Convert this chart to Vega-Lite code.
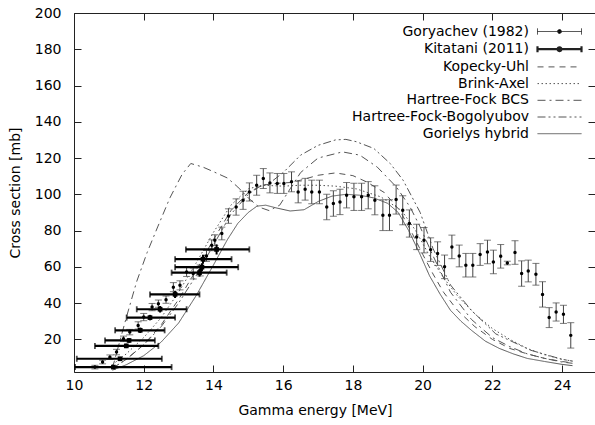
{
  "$schema": "https://vega.github.io/schema/vega-lite/v6.json",
  "width": 521,
  "height": 359,
  "autosize": {"type": "none"},
  "padding": {"left": 74, "top": 13, "right": 0, "bottom": 53},
  "background": "#ffffff",
  "config": {
    "font": "DejaVu Sans",
    "view": {"stroke": "#222", "strokeWidth": 1},
    "axis": {"labelFontSize": 14, "titleFontSize": 14, "titleFontWeight": "normal", "labelColor": "#000", "titleColor": "#000", "domainColor": "#222", "tickColor": "#222", "gridColor": "#222", "gridOpacity": 1, "gridWidth": 1, "labelFlush": false, "labelOverlap": false, "labelBound": false}
  },
  "datasets": {
    "models": [
      {"m": "Gorielys hybrid", "E": 11.1, "s": 3}, {"m": "Gorielys hybrid", "E": 11.5, "s": 6}, {"m": "Gorielys hybrid", "E": 12.0, "s": 11}, {"m": "Gorielys hybrid", "E": 12.5, "s": 18.5}, {"m": "Gorielys hybrid", "E": 13.0, "s": 29}, {"m": "Gorielys hybrid", "E": 13.5, "s": 44}, {"m": "Gorielys hybrid", "E": 14.0, "s": 61}, {"m": "Gorielys hybrid", "E": 14.4, "s": 75}, {"m": "Gorielys hybrid", "E": 14.7, "s": 84}, {"m": "Gorielys hybrid", "E": 15.0, "s": 90}, {"m": "Gorielys hybrid", "E": 15.25, "s": 93.5}, {"m": "Gorielys hybrid", "E": 15.5, "s": 94}, {"m": "Gorielys hybrid", "E": 15.8, "s": 92.5}, {"m": "Gorielys hybrid", "E": 16.2, "s": 90.8}, {"m": "Gorielys hybrid", "E": 16.6, "s": 91.5}, {"m": "Gorielys hybrid", "E": 17.0, "s": 96}, {"m": "Gorielys hybrid", "E": 17.4, "s": 99}, {"m": "Gorielys hybrid", "E": 17.8, "s": 100}, {"m": "Gorielys hybrid", "E": 18.2, "s": 99.5}, {"m": "Gorielys hybrid", "E": 18.6, "s": 98}, {"m": "Gorielys hybrid", "E": 19.0, "s": 95}, {"m": "Gorielys hybrid", "E": 19.3, "s": 90}, {"m": "Gorielys hybrid", "E": 19.6, "s": 80}, {"m": "Gorielys hybrid", "E": 19.9, "s": 68}, {"m": "Gorielys hybrid", "E": 20.2, "s": 55}, {"m": "Gorielys hybrid", "E": 20.5, "s": 45}, {"m": "Gorielys hybrid", "E": 20.8, "s": 36}, {"m": "Gorielys hybrid", "E": 21.1, "s": 30}, {"m": "Gorielys hybrid", "E": 21.4, "s": 25}, {"m": "Gorielys hybrid", "E": 21.8, "s": 19}, {"m": "Gorielys hybrid", "E": 22.2, "s": 15}, {"m": "Gorielys hybrid", "E": 22.6, "s": 12}, {"m": "Gorielys hybrid", "E": 23.0, "s": 9.5}, {"m": "Gorielys hybrid", "E": 23.5, "s": 7.8}, {"m": "Gorielys hybrid", "E": 24.0, "s": 6.2}, {"m": "Gorielys hybrid", "E": 24.3, "s": 5.5},
      {"m": "Kopecky-Uhl", "E": 11.1, "s": 4}, {"m": "Kopecky-Uhl", "E": 11.5, "s": 9}, {"m": "Kopecky-Uhl", "E": 12.0, "s": 17}, {"m": "Kopecky-Uhl", "E": 12.5, "s": 28}, {"m": "Kopecky-Uhl", "E": 13.0, "s": 42}, {"m": "Kopecky-Uhl", "E": 13.5, "s": 58}, {"m": "Kopecky-Uhl", "E": 14.0, "s": 75}, {"m": "Kopecky-Uhl", "E": 14.5, "s": 91}, {"m": "Kopecky-Uhl", "E": 15.0, "s": 101}, {"m": "Kopecky-Uhl", "E": 15.4, "s": 105}, {"m": "Kopecky-Uhl", "E": 15.8, "s": 106}, {"m": "Kopecky-Uhl", "E": 16.2, "s": 106.5}, {"m": "Kopecky-Uhl", "E": 16.5, "s": 107.8}, {"m": "Kopecky-Uhl", "E": 17.0, "s": 110.5}, {"m": "Kopecky-Uhl", "E": 17.5, "s": 111.8}, {"m": "Kopecky-Uhl", "E": 18.0, "s": 110.3}, {"m": "Kopecky-Uhl", "E": 18.4, "s": 106.8}, {"m": "Kopecky-Uhl", "E": 18.9, "s": 101}, {"m": "Kopecky-Uhl", "E": 19.35, "s": 91}, {"m": "Kopecky-Uhl", "E": 19.7, "s": 78.5}, {"m": "Kopecky-Uhl", "E": 20.0, "s": 67}, {"m": "Kopecky-Uhl", "E": 20.3, "s": 56}, {"m": "Kopecky-Uhl", "E": 20.6, "s": 46}, {"m": "Kopecky-Uhl", "E": 21.0, "s": 36}, {"m": "Kopecky-Uhl", "E": 21.5, "s": 27}, {"m": "Kopecky-Uhl", "E": 22.0, "s": 20}, {"m": "Kopecky-Uhl", "E": 22.5, "s": 15}, {"m": "Kopecky-Uhl", "E": 23.0, "s": 12}, {"m": "Kopecky-Uhl", "E": 23.5, "s": 9.5}, {"m": "Kopecky-Uhl", "E": 24.0, "s": 7.8}, {"m": "Kopecky-Uhl", "E": 24.3, "s": 7},
      {"m": "Brink-Axel", "E": 11.1, "s": 6}, {"m": "Brink-Axel", "E": 11.5, "s": 12}, {"m": "Brink-Axel", "E": 12.0, "s": 21}, {"m": "Brink-Axel", "E": 12.5, "s": 32}, {"m": "Brink-Axel", "E": 13.0, "s": 46}, {"m": "Brink-Axel", "E": 13.5, "s": 62}, {"m": "Brink-Axel", "E": 14.0, "s": 79}, {"m": "Brink-Axel", "E": 14.5, "s": 94}, {"m": "Brink-Axel", "E": 15.0, "s": 103}, {"m": "Brink-Axel", "E": 15.4, "s": 105}, {"m": "Brink-Axel", "E": 16.0, "s": 104.5}, {"m": "Brink-Axel", "E": 16.5, "s": 105}, {"m": "Brink-Axel", "E": 17.0, "s": 105}, {"m": "Brink-Axel", "E": 17.5, "s": 104.5}, {"m": "Brink-Axel", "E": 18.1, "s": 103}, {"m": "Brink-Axel", "E": 18.8, "s": 98.6}, {"m": "Brink-Axel", "E": 19.4, "s": 91}, {"m": "Brink-Axel", "E": 19.8, "s": 80}, {"m": "Brink-Axel", "E": 20.2, "s": 66}, {"m": "Brink-Axel", "E": 20.6, "s": 54}, {"m": "Brink-Axel", "E": 21.0, "s": 44}, {"m": "Brink-Axel", "E": 21.5, "s": 34}, {"m": "Brink-Axel", "E": 22.0, "s": 26}, {"m": "Brink-Axel", "E": 22.5, "s": 20}, {"m": "Brink-Axel", "E": 23.0, "s": 15}, {"m": "Brink-Axel", "E": 23.5, "s": 11.5}, {"m": "Brink-Axel", "E": 24.0, "s": 9}, {"m": "Brink-Axel", "E": 24.3, "s": 8},
      {"m": "Hartree-Fock BCS", "E": 11.1, "s": 4}, {"m": "Hartree-Fock BCS", "E": 11.3, "s": 18}, {"m": "Hartree-Fock BCS", "E": 11.5, "s": 32}, {"m": "Hartree-Fock BCS", "E": 11.8, "s": 52}, {"m": "Hartree-Fock BCS", "E": 12.1, "s": 68}, {"m": "Hartree-Fock BCS", "E": 12.4, "s": 82}, {"m": "Hartree-Fock BCS", "E": 12.75, "s": 98}, {"m": "Hartree-Fock BCS", "E": 13.1, "s": 111}, {"m": "Hartree-Fock BCS", "E": 13.35, "s": 117}, {"m": "Hartree-Fock BCS", "E": 13.7, "s": 115}, {"m": "Hartree-Fock BCS", "E": 14.0, "s": 112.5}, {"m": "Hartree-Fock BCS", "E": 14.4, "s": 109}, {"m": "Hartree-Fock BCS", "E": 14.7, "s": 104}, {"m": "Hartree-Fock BCS", "E": 15.0, "s": 98}, {"m": "Hartree-Fock BCS", "E": 15.3, "s": 93}, {"m": "Hartree-Fock BCS", "E": 15.6, "s": 91}, {"m": "Hartree-Fock BCS", "E": 15.9, "s": 94}, {"m": "Hartree-Fock BCS", "E": 16.2, "s": 103}, {"m": "Hartree-Fock BCS", "E": 16.5, "s": 112}, {"m": "Hartree-Fock BCS", "E": 17.0, "s": 120}, {"m": "Hartree-Fock BCS", "E": 17.7, "s": 123.4}, {"m": "Hartree-Fock BCS", "E": 18.2, "s": 121.6}, {"m": "Hartree-Fock BCS", "E": 18.7, "s": 115}, {"m": "Hartree-Fock BCS", "E": 19.25, "s": 104}, {"m": "Hartree-Fock BCS", "E": 19.64, "s": 93}, {"m": "Hartree-Fock BCS", "E": 19.93, "s": 82}, {"m": "Hartree-Fock BCS", "E": 20.3, "s": 66}, {"m": "Hartree-Fock BCS", "E": 20.8, "s": 46}, {"m": "Hartree-Fock BCS", "E": 21.4, "s": 31}, {"m": "Hartree-Fock BCS", "E": 22.0, "s": 21}, {"m": "Hartree-Fock BCS", "E": 22.5, "s": 16}, {"m": "Hartree-Fock BCS", "E": 23.0, "s": 12}, {"m": "Hartree-Fock BCS", "E": 23.5, "s": 9.5}, {"m": "Hartree-Fock BCS", "E": 24.0, "s": 7.5}, {"m": "Hartree-Fock BCS", "E": 24.3, "s": 6.8},
      {"m": "Hartree-Fock-Bogolyubov", "E": 11.1, "s": 4}, {"m": "Hartree-Fock-Bogolyubov", "E": 11.5, "s": 9}, {"m": "Hartree-Fock-Bogolyubov", "E": 12.0, "s": 17}, {"m": "Hartree-Fock-Bogolyubov", "E": 12.5, "s": 27}, {"m": "Hartree-Fock-Bogolyubov", "E": 13.0, "s": 40}, {"m": "Hartree-Fock-Bogolyubov", "E": 13.5, "s": 55}, {"m": "Hartree-Fock-Bogolyubov", "E": 14.0, "s": 72}, {"m": "Hartree-Fock-Bogolyubov", "E": 14.5, "s": 89}, {"m": "Hartree-Fock-Bogolyubov", "E": 15.0, "s": 100}, {"m": "Hartree-Fock-Bogolyubov", "E": 15.3, "s": 104}, {"m": "Hartree-Fock-Bogolyubov", "E": 15.6, "s": 106}, {"m": "Hartree-Fock-Bogolyubov", "E": 16.0, "s": 112}, {"m": "Hartree-Fock-Bogolyubov", "E": 16.5, "s": 121.6}, {"m": "Hartree-Fock-Bogolyubov", "E": 17.0, "s": 127}, {"m": "Hartree-Fock-Bogolyubov", "E": 17.5, "s": 130}, {"m": "Hartree-Fock-Bogolyubov", "E": 17.8, "s": 130.3}, {"m": "Hartree-Fock-Bogolyubov", "E": 18.1, "s": 129}, {"m": "Hartree-Fock-Bogolyubov", "E": 18.6, "s": 125.3}, {"m": "Hartree-Fock-Bogolyubov", "E": 19.07, "s": 117}, {"m": "Hartree-Fock-Bogolyubov", "E": 19.44, "s": 107.8}, {"m": "Hartree-Fock-Bogolyubov", "E": 19.93, "s": 90}, {"m": "Hartree-Fock-Bogolyubov", "E": 20.3, "s": 70}, {"m": "Hartree-Fock-Bogolyubov", "E": 20.8, "s": 50}, {"m": "Hartree-Fock-Bogolyubov", "E": 21.4, "s": 36}, {"m": "Hartree-Fock-Bogolyubov", "E": 22.1, "s": 23}, {"m": "Hartree-Fock-Bogolyubov", "E": 23.1, "s": 14}, {"m": "Hartree-Fock-Bogolyubov", "E": 24.0, "s": 9}, {"m": "Hartree-Fock-Bogolyubov", "E": 24.3, "s": 8}
    ],
    "gor": [
      {"E": 10.6, "s": 4.7, "lo": 3.7, "hi": 5.7}, {"E": 10.82, "s": 7.5, "lo": 6.5, "hi": 8.5}, {"E": 11.03, "s": 10.2, "lo": 9, "hi": 11.4}, {"E": 11.22, "s": 13, "lo": 11.5, "hi": 14.5}, {"E": 11.42, "s": 20.3, "lo": 18.8, "hi": 21.8}, {"E": 11.6, "s": 24, "lo": 22.5, "hi": 25.5}, {"E": 11.84, "s": 27.7, "lo": 25.7, "hi": 29.7}, {"E": 12.0, "s": 32.3, "lo": 30.3, "hi": 34.3}, {"E": 12.24, "s": 37.8, "lo": 35.8, "hi": 39.8}, {"E": 12.42, "s": 39.7, "lo": 37.7, "hi": 41.7}, {"E": 12.64, "s": 41.9, "lo": 39.9, "hi": 43.9}, {"E": 12.85, "s": 48.8, "lo": 46.3, "hi": 51.3}, {"E": 13.04, "s": 49.8, "lo": 47.3, "hi": 52.3}, {"E": 13.23, "s": 57.2, "lo": 54.7, "hi": 59.7}, {"E": 13.42, "s": 56.3, "lo": 53.3, "hi": 59.3}, {"E": 13.62, "s": 58, "lo": 55, "hi": 61}, {"E": 13.8, "s": 66, "lo": 63, "hi": 69}, {"E": 13.95, "s": 71.9, "lo": 68.9, "hi": 74.9}, {"E": 14.04, "s": 74.7, "lo": 71.7, "hi": 77.7}, {"E": 14.24, "s": 78.4, "lo": 74.9, "hi": 81.9}, {"E": 14.43, "s": 88, "lo": 84, "hi": 92}, {"E": 14.65, "s": 93, "lo": 88.5, "hi": 97.5}, {"E": 14.85, "s": 96.7, "lo": 91.7, "hi": 101.7}, {"E": 15.03, "s": 101.3, "lo": 96.3, "hi": 106.3}, {"E": 15.24, "s": 105, "lo": 99.5, "hi": 110.5}, {"E": 15.43, "s": 108.7, "lo": 103.2, "hi": 114.2}, {"E": 15.62, "s": 106.3, "lo": 100.8, "hi": 111.8}, {"E": 15.83, "s": 106, "lo": 100.5, "hi": 111.5}, {"E": 16.02, "s": 106, "lo": 100.5, "hi": 111.5}, {"E": 16.24, "s": 106.9, "lo": 101.4, "hi": 112.4}, {"E": 16.43, "s": 101.3, "lo": 95.3, "hi": 107.3}, {"E": 16.63, "s": 102.8, "lo": 96.8, "hi": 108.8}, {"E": 16.82, "s": 101.3, "lo": 94.8, "hi": 107.8}, {"E": 17.04, "s": 101.3, "lo": 94.8, "hi": 107.8}, {"E": 17.25, "s": 93, "lo": 86, "hi": 100}, {"E": 17.44, "s": 94.9, "lo": 87.9, "hi": 101.9}, {"E": 17.63, "s": 95.8, "lo": 88.8, "hi": 102.8}, {"E": 17.82, "s": 99.5, "lo": 92.5, "hi": 106.5}, {"E": 18.03, "s": 98.6, "lo": 91.1, "hi": 106.1}, {"E": 18.25, "s": 98.6, "lo": 91.1, "hi": 106.1}, {"E": 18.44, "s": 99.5, "lo": 92, "hi": 107}, {"E": 18.63, "s": 96.7, "lo": 88.7, "hi": 104.7}, {"E": 18.86, "s": 88.5, "lo": 80, "hi": 97}, {"E": 19.05, "s": 88.5, "lo": 80, "hi": 97}, {"E": 19.24, "s": 97.1, "lo": 89.1, "hi": 105.1}, {"E": 19.43, "s": 91.2, "lo": 83.2, "hi": 99.2}, {"E": 19.62, "s": 83.9, "lo": 76.4, "hi": 91.4}, {"E": 19.83, "s": 76.5, "lo": 69.5, "hi": 83.5}, {"E": 20.04, "s": 74.7, "lo": 67.7, "hi": 81.7}, {"E": 20.23, "s": 69.5, "lo": 63, "hi": 76}, {"E": 20.43, "s": 67.3, "lo": 60.8, "hi": 73.8}, {"E": 20.63, "s": 60, "lo": 53.5, "hi": 66.5}, {"E": 20.84, "s": 71, "lo": 64.5, "hi": 77.5}, {"E": 21.05, "s": 66, "lo": 60, "hi": 72}, {"E": 21.24, "s": 60.9, "lo": 54.4, "hi": 67.4}, {"E": 21.44, "s": 60.9, "lo": 54.4, "hi": 67.4}, {"E": 21.65, "s": 66.8, "lo": 60.8, "hi": 72.8}, {"E": 21.86, "s": 68.2, "lo": 61.7, "hi": 74.7}, {"E": 22.03, "s": 62.7, "lo": 56.2, "hi": 69.2}, {"E": 22.24, "s": 65.8, "lo": 59.3, "hi": 72.3}, {"E": 22.43, "s": 62.1, "lo": 61.1, "hi": 63.1}, {"E": 22.65, "s": 67.9, "lo": 61.4, "hi": 74.4}, {"E": 22.84, "s": 56.3, "lo": 49.3, "hi": 63.3}, {"E": 23.03, "s": 57.7, "lo": 51.7, "hi": 63.7}, {"E": 23.25, "s": 55.9, "lo": 49.9, "hi": 61.9}, {"E": 23.44, "s": 44.8, "lo": 37.8, "hi": 51.8}, {"E": 23.63, "s": 32, "lo": 26.5, "hi": 37.5}, {"E": 23.83, "s": 35.1, "lo": 30.1, "hi": 40.1}, {"E": 24.04, "s": 33.8, "lo": 28.8, "hi": 38.8}, {"E": 24.25, "s": 22.2, "lo": 15.2, "hi": 29.2}
    ],
    "kit": [
      {"E": 11.13, "Elo": 10.03, "Ehi": 12.8, "s": 4.7, "lo": 3.7, "hi": 5.7}, {"E": 11.32, "Elo": 10.08, "Ehi": 12.52, "s": 9.3, "lo": 8.3, "hi": 10.3}, {"E": 11.5, "Elo": 10.6, "Ehi": 12.42, "s": 16.4, "lo": 15.2, "hi": 17.6}, {"E": 11.58, "Elo": 10.89, "Ehi": 12.32, "s": 19.4, "lo": 18.2, "hi": 20.6}, {"E": 11.9, "Elo": 11.18, "Ehi": 12.6, "s": 25, "lo": 23.5, "hi": 26.5}, {"E": 12.18, "Elo": 11.51, "Ehi": 12.9, "s": 32, "lo": 30.5, "hi": 33.5}, {"E": 12.47, "Elo": 11.8, "Ehi": 13.23, "s": 36.6, "lo": 34.8, "hi": 38.4}, {"E": 12.9, "Elo": 12.18, "Ehi": 13.6, "s": 44.8, "lo": 42.8, "hi": 46.8}, {"E": 13.6, "Elo": 12.8, "Ehi": 14.38, "s": 56.8, "lo": 54.6, "hi": 59}, {"E": 13.67, "Elo": 12.9, "Ehi": 14.71, "s": 59.8, "lo": 57.6, "hi": 62}, {"E": 13.7, "Elo": 12.9, "Ehi": 14.52, "s": 64.2, "lo": 61.7, "hi": 66.7}, {"E": 14.09, "Elo": 13.21, "Ehi": 15.03, "s": 69.6, "lo": 66.8, "hi": 72.4}
    ]
  },
  "resolve": {"axis": {"x": "independent", "y": "independent"}},
  "layer": [
    {
      "data": {"name": "models"},
      "mark": {"type": "line", "color": "#555", "strokeWidth": 1},
      "encoding": {
        "x": {"field": "E", "type": "quantitative", "scale": {"domain": [10, 24.945], "nice": false, "zero": false},
              "axis": {"orient": "bottom", "values": [10, 12, 14, 16, 18, 20, 22, 24], "title": "Gamma energy [MeV]", "domain": false, "ticks": false, "grid": true, "gridDash": [7, 345, 7], "labelOverlap": false, "labelBound": false, "labelFlush": false, "labelPadding": 6, "titleX": 241, "titleY": 38, "titleBaseline": "middle"}},
        "y": {"field": "s", "type": "quantitative", "scale": {"domain": [2, 200], "nice": false, "zero": false},
              "axis": {"orient": "left", "values": [20, 40, 60, 80, 100, 120, 140, 160, 180, 200], "title": "Cross section [mb]", "domain": false, "ticks": false, "grid": true, "gridDash": [7, 507, 7], "labelOverlap": false, "labelBound": false, "labelFlush": false, "labelPadding": 13, "titleX": -59, "titleBaseline": "middle"}},
        "strokeDash": {"field": "m", "type": "nominal",
          "scale": {"domain": ["Goryachev (1982)", "Kitatani (2011)", "Kopecky-Uhl", "Brink-Axel", "Hartree-Fock BCS", "Hartree-Fock-Bogolyubov", "Gorielys hybrid"],
                    "range": [[1, 0], [1, 0], [6, 5], [1.5, 2.5], [8, 4, 2, 4], [8, 3, 2, 3, 2, 3], [1, 0]]},
          "legend": {"orient": "none", "legendX": 478.5, "legendY": 11.5, "title": null, "padding": 0,
                     "labelAlign": "right", "labelOffset": -37.5, "labelFont": "DejaVu Sans", "labelFontSize": 14, "labelColor": "#000", "labelLimit": 400,
                     "symbolSize": 121, "symbolType": "M-4,0H4", "symbolStrokeColor": "#555", "rowPadding": 2.7,
                     "encode": {"symbols": {"update": {
                       "shape": {"signal": "(datum.value === 'Goryachev (1982)' || datum.value === 'Kitatani (2011)') ? 'M-4,0H4M-4,-0.55V0.55M4,-0.55V0.55M-0.35,0A0.35,0.35,0,1,0,0.35,0A0.35,0.35,0,1,0,-0.35,0Z' : 'M-4,0H4'"},
                       "strokeWidth": {"signal": "datum.value === 'Kitatani (2011)' ? 2.2 : 1"},
                       "fill": {"value": "#000"},
                       "stroke": {"signal": "(datum.value === 'Goryachev (1982)' || datum.value === 'Kitatani (2011)') ? '#222' : '#555'"}
                     }}}}
        }
      }
    },
    {
      "data": {"name": "gor"},
      "mark": {"type": "rule", "color": "#444", "strokeWidth": 1},
      "encoding": {
        "x": {"field": "E", "type": "quantitative", "axis": null},
        "y": {"field": "lo", "type": "quantitative", "axis": null},
        "y2": {"field": "hi"}
      }
    },
    {
      "data": {"name": "gor"},
      "transform": [{"fold": ["lo", "hi"], "as": ["end", "v"]}],
      "mark": {"type": "tick", "orient": "horizontal", "color": "#444", "thickness": 1, "size": 7},
      "encoding": {
        "x": {"field": "E", "type": "quantitative", "axis": null},
        "y": {"field": "v", "type": "quantitative", "axis": null}
      }
    },
    {
      "data": {"name": "gor"},
      "mark": {"type": "point", "filled": true, "color": "#000", "size": 12, "opacity": 1},
      "encoding": {
        "x": {"field": "E", "type": "quantitative", "axis": null},
        "y": {"field": "s", "type": "quantitative", "axis": null}
      }
    },
    {
      "data": {"name": "kit"},
      "mark": {"type": "rule", "color": "#000", "strokeWidth": 2.2},
      "encoding": {
        "x": {"field": "Elo", "type": "quantitative", "axis": null},
        "x2": {"field": "Ehi"},
        "y": {"field": "s", "type": "quantitative", "axis": null}
      }
    },
    {
      "data": {"name": "kit"},
      "transform": [{"fold": ["Elo", "Ehi"], "as": ["end", "v"]}],
      "mark": {"type": "tick", "orient": "vertical", "color": "#000", "thickness": 1.8, "size": 6},
      "encoding": {
        "x": {"field": "v", "type": "quantitative", "axis": null},
        "y": {"field": "s", "type": "quantitative", "axis": null}
      }
    },
    {
      "data": {"name": "kit"},
      "mark": {"type": "rule", "color": "#000", "strokeWidth": 2},
      "encoding": {
        "x": {"field": "E", "type": "quantitative", "axis": null},
        "y": {"field": "lo", "type": "quantitative", "axis": null},
        "y2": {"field": "hi"}
      }
    },
    {
      "data": {"name": "kit"},
      "mark": {"type": "square", "filled": true, "color": "#000", "size": 22, "opacity": 1},
      "encoding": {
        "x": {"field": "E", "type": "quantitative", "axis": null},
        "y": {"field": "s", "type": "quantitative", "axis": null}
      }
    }
  ]
}
